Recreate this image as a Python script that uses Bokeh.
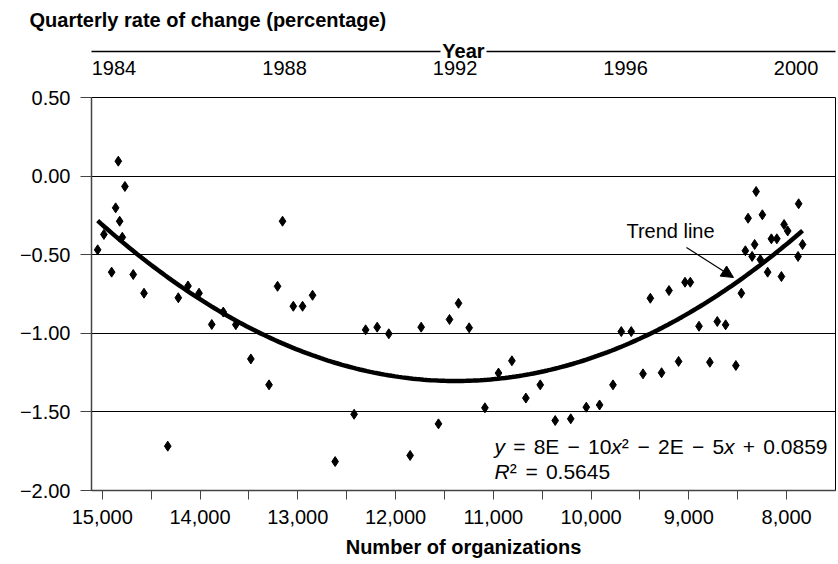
import numpy as np
from bokeh.plotting import figure
from bokeh.models import Range1d, LinearAxis, FixedTicker, Arrow, NormalHead, Label
from bokeh.embed import file_html
from bokeh.resources import INLINE

# ---------------- data ----------------
organizations = [14836, 14768, 14863, 14822, 14983, 15047, 14795, 14904, 14683, 14573,
                 14222, 14123, 14010, 13880, 13762, 13634, 13480, 13294, 13156, 13207,
                 13046, 12951, 12849, 14330, 12618, 12424, 12306, 12188, 12069, 11851,
                 11738, 11561, 11448, 11356, 11247, 11086, 10947, 10810, 10667, 10520,
                 10367, 10208, 10049, 9913, 9776, 9469, 9279, 9105, 8785, 8519,
                 9691, 9589, 9394, 9203, 9039, 8985, 8896, 8709, 8624, 8463,
                 8422, 8353, 8327, 8394, 8248, 8312, 8194, 8053, 8156, 8100,
                 8269, 8026, 7989, 7877, 7837, 7883]
rate = [0.095, -0.066, -0.202, -0.287, -0.371, -0.469, -0.389, -0.611, -0.626, -0.745,
        -0.774, -0.699, -0.745, -0.944, -0.865, -0.945, -1.163, -1.328, -0.287, -0.701,
        -0.828, -0.828, -0.758, -1.718, -1.816, -1.515, -0.978, -0.961, -1.003, -1.777,
        -0.961, -1.576, -0.912, -0.809, -0.965, -1.474, -1.253, -1.175, -1.412, -1.328,
        -1.555, -1.544, -1.470, -1.456, -1.328, -1.258, -1.251, -1.179, -1.184, -1.205,
        -0.989, -0.989, -0.777, -0.728, -0.675, -0.675, -0.955, -0.925, -0.946, -0.745,
        -0.475, -0.511, -0.435, -0.268, -0.246, -0.098, -0.611, -0.639, -0.399, -0.399,
        -0.531, -0.308, -0.349, -0.176, -0.435, -0.511]

y_ticks = [-2.0, -1.5, -1.0, -0.5, 0.0, 0.5]
y_tick_labels = ["\u22122.00", "\u22121.50", "\u22121.00", "\u22120.50", "0.00", "0.50"]
x_ticks = [15000, 14500, 14000, 13500, 13000, 12500, 12000, 11500, 11000, 10500,
           10000, 9500, 9000, 8500, 8000]
x_tick_labels = ["15,000", "", "14,000", "", "13,000", "", "12,000", "", "11,000", "",
                 "10,000", "", "9,000", "", "8,000"]
year_ticks = [1984, 1988, 1992, 1996, 2000]
year_tick_labels = ["1984", "1988", "1992", "1996", "2000"]

# ---------------- geometry ----------------
W, H = 838, 564
FL, FR, FT, FB = 91, 835, 97, 490
X0, X1 = 15110, 7500
Y0, Y1 = -2.0, 0.5
YR0, YR1 = 1983.472, 2000.924
FONT = "Liberation Sans"


def dx(px):
    return X0 + (px - FL) / (FR - FL) * (X1 - X0)


def dy(py):
    return Y1 - (py - FT) / (FB - FT) * (Y1 - Y0)


def yr(px):
    return YR0 + (px - FL) / (FR - FL) * (YR1 - YR0)


p = figure(width=W, height=H, x_range=Range1d(X0, X1), y_range=Range1d(Y0, Y1),
           output_backend="svg", toolbar_location=None,
           min_border_left=FL, min_border_right=W - FR,
           min_border_top=FT, min_border_bottom=H - FB,
           title="Quarterly rate of change (percentage)")
p.background_fill_color = "white"
p.border_fill_color = "white"
p.outline_line_color = "black"
p.outline_line_width = 1

p.title.text_font = FONT
p.title.text_font_size = "20px"
p.title.text_font_style = "bold"
p.title.text_color = "black"
p.title.align = "left"
p.title.offset = -62
p.title.standoff = 12

# left axis
ya = p.yaxis[0]
ya.ticker = FixedTicker(ticks=y_ticks)
ya.major_label_overrides = {t: l for t, l in zip(y_ticks, y_tick_labels)}
ya.major_tick_out = 11
ya.major_tick_in = 0
ya.minor_tick_line_color = None
ya.major_label_standoff = 10
ya.major_label_text_font = FONT
ya.major_label_text_font_size = "20px"
ya.major_label_text_color = "black"
ya.axis_line_color = "#444444"
ya.axis_line_width = 1.5
ya.major_tick_line_color = "#444444"

# bottom axis
xa = p.xaxis[0]
xa.ticker = FixedTicker(ticks=x_ticks)
xa.major_label_overrides = {t: l for t, l in zip(x_ticks, x_tick_labels)}
xa.major_tick_out = 9
xa.major_tick_in = 0
xa.minor_tick_line_color = None
xa.major_label_standoff = 10
xa.major_label_text_font = FONT
xa.major_label_text_font_size = "20px"
xa.major_label_text_color = "black"
xa.axis_line_color = "#444444"
xa.axis_line_width = 1.5
xa.major_tick_line_color = "#444444"
xa.axis_label = "Number of organizations"
xa.axis_label_text_font = FONT
xa.axis_label_text_font_size = "20px"
xa.axis_label_text_font_style = "bold"
xa.axis_label_text_color = "black"
xa.axis_label_standoff = 9

# top year axis: tick labels
p.extra_x_ranges = {"year": Range1d(YR0, YR1)}
ta = LinearAxis(x_range_name="year", ticker=FixedTicker(ticks=year_ticks))
ta.major_label_overrides = {t: l for t, l in zip(year_ticks, year_tick_labels)}
ta.axis_line_color = None
ta.major_tick_line_color = None
ta.minor_tick_line_color = None
ta.major_tick_out = 0
ta.major_tick_in = 0
ta.major_label_standoff = 23
ta.major_label_text_font = FONT
ta.major_label_text_font_size = "20px"
ta.major_label_text_color = "black"
p.add_layout(ta, "above")

# invisible spacer between the year labels and the rule (one hidden tick)
sp = LinearAxis(x_range_name="year", ticker=FixedTicker(ticks=[year_ticks[2]]))
sp.major_label_overrides = {year_ticks[2]: ""}
sp.axis_line_color = None
sp.major_tick_line_color = None
sp.minor_tick_line_color = None
sp.major_tick_out = 6
sp.major_tick_in = 0
sp.minor_tick_out = 0
sp.major_label_standoff = 0
sp.major_label_text_font_size = "1px"
sp.axis_label_standoff = 0
p.add_layout(sp, "above")

# top year axis: the rule, broken by the bold "Year" title
half = 23
for i, bnd in enumerate([(YR0, yr(463 - half)), (yr(463 + half), YR1)]):
    la = LinearAxis(x_range_name="year", ticker=FixedTicker(ticks=[]), bounds=bnd)
    la.axis_line_color = "black"
    la.axis_line_width = 1.3
    la.major_tick_line_color = None
    la.minor_tick_line_color = None
    la.major_tick_out = 0
    la.major_tick_in = 0
    la.minor_tick_out = 0
    la.major_label_standoff = 0
    la.major_label_text_font_size = "0px"
    if i == 1:
        la.axis_label = "Year"
        la.axis_label_text_font = FONT
        la.axis_label_text_font_size = "20px"
        la.axis_label_text_font_style = "bold"
        la.axis_label_text_color = "black"
        la.axis_label_standoff = -10
    else:
        la.axis_label_standoff = 0
    p.add_layout(la, "above")

# grid
p.xgrid.visible = False
p.ygrid.grid_line_color = "black"
p.ygrid.grid_line_width = 1

# scatter
p.scatter(organizations, rate, marker="diamond", size=10, color="black")

# quadratic trend line fitted to the points
coef = np.polyfit(organizations, rate, 2)
tx = np.linspace(max(organizations), min(organizations), 200)
ty = np.polyval(coef, tx)
p.line(tx, ty, line_width=4.5, color="black")

# trend line annotation
p.add_layout(Label(x=dx(670), y=dy(230), text="Trend line", text_align="center",
                   text_baseline="middle", text_font=FONT, text_font_size="20px",
                   text_color="black"))
p.add_layout(Arrow(x_start=dx(686), y_start=dy(247), x_end=dx(733), y_end=dy(277),
                   end=NormalHead(size=12, fill_color="black", line_color="black"),
                   line_color="black", line_width=1.2))

# equation
FS = 21
SW = 8.2
WID = {"=": .584, "8": .556, "E": .667, "\u2212": .584, "1": .556, "0": .556,
       "\u00b2": .36, "2": .556, "5": .556, "+": .584, ".": .278, "9": .556, "4": .556,
       "6": .556, "x": .5, "y": .5, "R": .722}


def put_line(tokens, px0, py):
    cx = px0
    for tok in tokens:
        if tok is None:
            cx += SW
            continue
        txt, ital = tok
        p.add_layout(Label(x=dx(cx), y=dy(py), text=txt, text_align="left",
                           text_baseline="alphabetic", text_font=FONT,
                           text_font_size=f"{FS}px",
                           text_font_style="italic" if ital else "normal",
                           text_color="black"))
        cx += sum(WID.get(c, .556) for c in txt) * FS


S = None
put_line([("y", True), S, ("=", False), S, ("8E", False), S, ("\u2212", False), S,
          ("10", False), ("x", True), ("\u00b2", False), S, ("\u2212", False), S,
          ("2E", False), S, ("\u2212", False), S, ("5", False), ("x", True), S,
          ("+", False), S, ("0.0859", False)], 494, 446)
put_line([("R", True), ("\u00b2", False), S, ("=", False), S, ("0.5645", False)], 494, 471)

open("out.html", "w").write(file_html(p, INLINE))
